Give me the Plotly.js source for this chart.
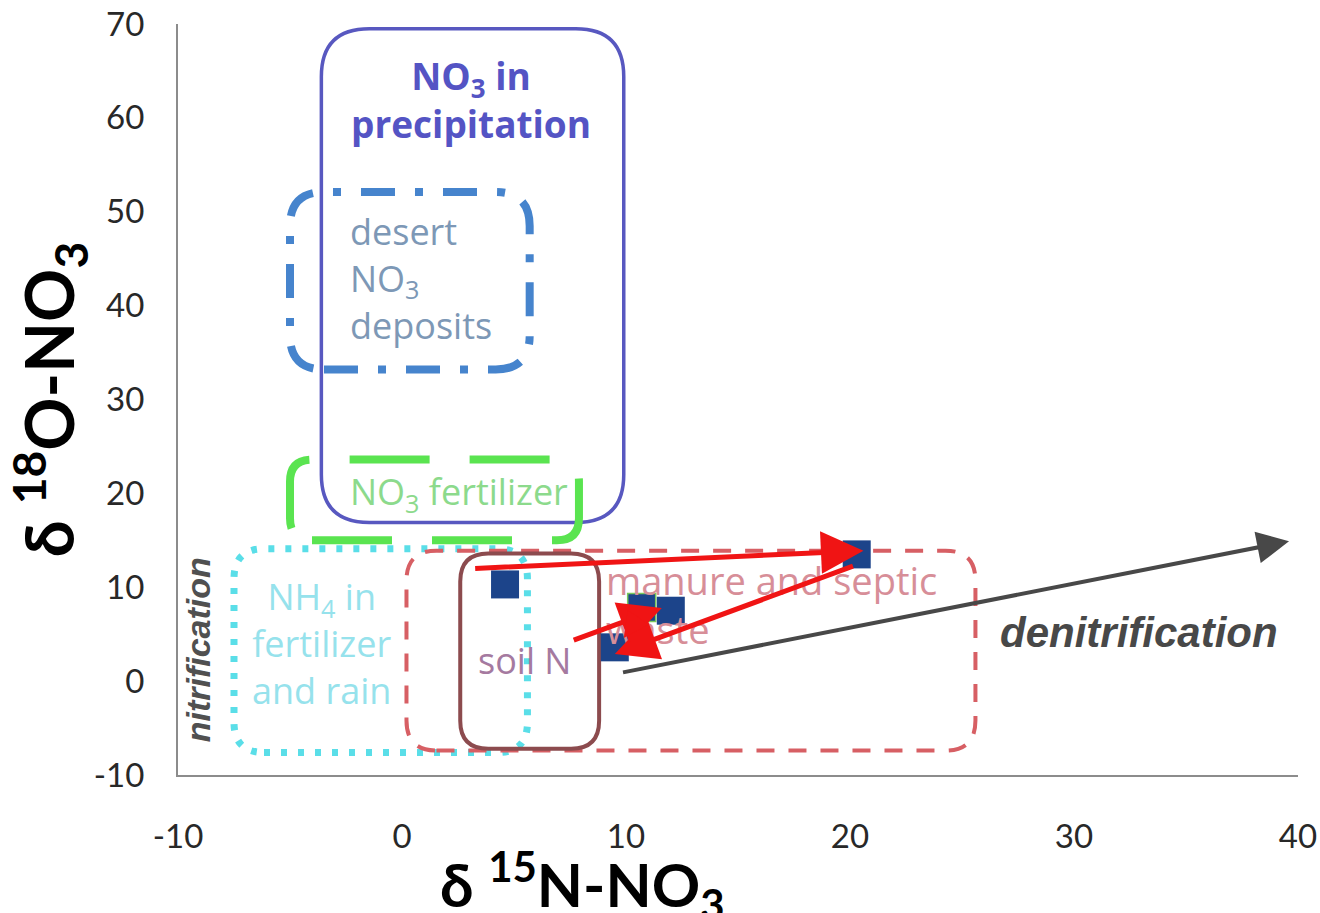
<!DOCTYPE html>
<html>
<head>
<meta charset="utf-8">
<script src="https://cdn.plot.ly/plotly-3.0.1.min.js"></script>
<style>html,body{margin:0;padding:0;background:#fff;}#chart{width:1320px;height:913px;}</style>
</head>
<body>
<div id="chart"></div>
<script>
// ---- data ----
const xTickVals = [-10, 0, 10, 20, 30, 40];
const xTickText = ['-10', '0', '10', '20', '30', '40'];
const yTickVals = [-10, 0, 10, 20, 30, 40, 50, 60, 70];
const yTickText = ['-10', '0', '10', '20', '30', '40', '50', '60', '70'];

const sampleX = [4.6, 20.3, 10.7, 12.0, 9.5];
const sampleY = [10.3, 13.5, 7.85, 7.5, 3.6];

const regionNames = ['NO3 in precipitation', 'desert NO3 deposits', 'NO3 fertilizer', 'NH4 in fertilizer and rain', 'manure and septic waste', 'soil N'];
const regionXMin = [-3.6, -5.0, -5.0, -7.5, 0.2, 2.6];
const regionXMax = [9.9, 5.7, 7.9, 5.6, 25.6, 8.8];
const regionYMin = [16.9, 33.2, 15.0, -7.6, -7.4, -7.2];
const regionYMax = [69.5, 52.1, 23.6, 14.1, 13.9, 13.6];

// red arrows: tail -> head
const shiftFromX = [3.2, 20.2, 7.6, 10.6];
const shiftFromY = [12.0, 12.3, 4.3, 7.0];
const shiftToX = [20.6, 9.5, 11.6, 9.9];
const shiftToY = [13.9, 2.9, 7.8, 4.6];

// denitrification arrow
const denitFromX = 9.8, denitFromY = 0.9;
const denitToX = 39.6, denitToY = 14.9;

// ---- styles ----
const regionStyles = [
  {color: 'rgb(88,88,192)', width: 3.5, dash: 'solid', rpx: 48},
  {color: 'rgb(70,132,205)', width: 8, dash: '34px,20px,8px,20px', rpx: 34},
  {color: 'rgb(90,228,80)', width: 8, dash: '80px,40px', rpx: 22},
  {color: 'rgb(90,222,232)', width: 7, dash: '6px,11px', rpx: 30},
  {color: 'rgb(215,95,100)', width: 4, dash: '18px,14px', rpx: 30},
  {color: 'rgb(140,75,78)', width: 4, dash: 'solid', rpx: 28}
];
const PXX = 1120 / 50, PXY = 751 / 80;

function roundRect(x0, x1, y0, y1, rpx) {
  const rx = rpx / PXX, ry = rpx / PXY;
  return 'M' + (x0 + rx) + ',' + y0 + ' L' + (x1 - rx) + ',' + y0 +
    ' Q' + x1 + ',' + y0 + ' ' + x1 + ',' + (y0 + ry) +
    ' L' + x1 + ',' + (y1 - ry) +
    ' Q' + x1 + ',' + y1 + ' ' + (x1 - rx) + ',' + y1 +
    ' L' + (x0 + rx) + ',' + y1 +
    ' Q' + x0 + ',' + y1 + ' ' + x0 + ',' + (y1 - ry) +
    ' L' + x0 + ',' + (y0 + ry) +
    ' Q' + x0 + ',' + y0 + ' ' + (x0 + rx) + ',' + y0 + ' Z';
}

const shapes = regionNames.map((n, i) => ({
  type: 'path', xref: 'x', yref: 'y', layer: 'below',
  path: roundRect(regionXMin[i], regionXMax[i], regionYMin[i], regionYMax[i], regionStyles[i].rpx),
  line: {color: regionStyles[i].color, width: regionStyles[i].width, dash: regionStyles[i].dash},
  fillcolor: 'rgba(0,0,0,0)'
}));

const txtFont = 'Open Sans, sans-serif';
const annotations = [
  {x: 3.1, y: 62.0, text: '<b>NO<sub>3</sub> in<br>precipitation</b>', font: {family: txtFont, size: 37, color: 'rgb(84,84,196)'}},
  {x: -2.4, y: 42.9, xanchor: 'left', align: 'left', text: 'desert<br>NO<sub>3</sub><br>deposits', font: {family: txtFont, size: 36, color: 'rgb(125,152,182)'}},
  {x: 2.55, y: 20.0, text: 'NO<sub>3</sub> fertilizer', font: {family: txtFont, size: 36, color: 'rgb(140,218,140)'}},
  {x: -3.6, y: 4.0, text: 'NH<sub>4</sub> in<br>fertilizer<br>and rain', font: {family: txtFont, size: 36, color: 'rgb(150,226,236)'}},
  {x: 5.45, y: 2.2, text: 'soil N', font: {family: txtFont, size: 36, color: 'rgb(165,122,160)'}},
  {x: 9.0, y: 8.2, xanchor: 'left', align: 'left', text: 'manure and septic<br>waste', font: {family: txtFont, size: 38, color: 'rgb(215,142,152)'}},
  {x: 32.9, y: 5.2, text: '<b><i>denitrification</i></b>', font: {family: 'Liberation Sans, Arial, sans-serif', size: 42, color: 'rgb(72,72,72)'}},
  {x: -9.1, y: 3.3, textangle: -90, text: '<b><i>nitrification</i></b>', font: {family: 'Liberation Sans, Arial, sans-serif', size: 34, color: 'rgb(80,80,80)'}},
  {xref: 'paper', yref: 'paper', x: 0.361, y: 0, yanchor: 'top', yshift: -64, text: '<b>δ <sup>15</sup>N-NO<sub>3</sub></b>', font: {family: 'Lato, sans-serif', size: 60, color: '#000'}}
].map(a => Object.assign({xref: 'x', yref: 'y', showarrow: false}, a));

for (let i = 0; i < shiftFromX.length; i++) {
  annotations.push({
    xref: 'x', yref: 'y', axref: 'x', ayref: 'y',
    x: shiftToX[i], y: shiftToY[i], ax: shiftFromX[i], ay: shiftFromY[i],
    text: '', showarrow: true, arrowhead: 2, arrowsize: i === 3 ? 1.0 : 1.7, arrowwidth: 5,
    arrowcolor: 'rgb(240,20,20)', standoff: 0, startstandoff: 0
  });
}
annotations.push({
  xref: 'x', yref: 'y', axref: 'x', ayref: 'y',
  x: denitToX, y: denitToY, ax: denitFromX, ay: denitFromY,
  text: '', showarrow: true, arrowhead: 2, arrowsize: 1.6, arrowwidth: 4,
  arrowcolor: 'rgb(72,72,72)', standoff: 0, startstandoff: 0
});

const traces = [{
  type: 'scatter', mode: 'markers', x: sampleX, y: sampleY,
  marker: {symbol: 'square', size: 28, color: 'rgb(28,68,138)',
    line: {color: ['rgba(0,0,0,0)', 'rgba(0,0,0,0)', 'rgb(120,200,90)', 'rgba(0,0,0,0)', 'rgba(0,0,0,0)'], width: 1.5}},
  hoverinfo: 'x+y', showlegend: false
}];

const layout = {
  width: 1320, height: 913, autosize: false,
  margin: {l: 178, r: 22, t: 24, b: 138},
  paper_bgcolor: '#fff', plot_bgcolor: '#fff',
  showlegend: false,
  xaxis: {
    range: [-10, 40], tickvals: xTickVals, ticktext: xTickText, showgrid: false, zeroline: false,
    showline: true, linecolor: 'rgb(140,140,140)', linewidth: 2, ticks: '',
    ticklabelstandoff: 31,
    tickfont: {family: 'Lato, sans-serif', size: 33, color: 'rgb(40,40,40)'}
  },
  yaxis: {
    range: [-10, 70], tickvals: yTickVals, ticktext: yTickText, showgrid: false, zeroline: false,
    showline: true, linecolor: 'rgb(140,140,140)', linewidth: 2, ticks: '',
    ticklabelstandoff: 25,
    tickfont: {family: 'Lato, sans-serif', size: 33, color: 'rgb(40,40,40)'},
    title: {text: '<b>δ <sup>18</sup>O-NO<sub>3</sub></b>', standoff: 24,
      font: {family: 'Lato, sans-serif', size: 66, color: '#000'}}
  },
  shapes: shapes,
  annotations: annotations
};

Plotly.newPlot('chart', traces, layout, {displayModeBar: false, staticPlot: true});
</script>
</body>
</html>
